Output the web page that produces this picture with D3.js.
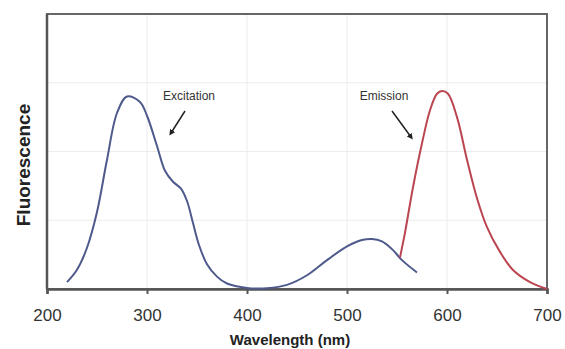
<!DOCTYPE html>
<html>
<head>
<meta charset="utf-8">
<script src="https://cdn.jsdelivr.net/npm/d3@7"></script>
<style>
body { margin: 0; background: #fff; }
svg { display: block; }
</style>
</head>
<body>
<div id="chart"></div>
<script>
// wavelength (nm) / relative fluorescence
var excitationNm = [220, 230, 240, 250, 260, 270, 280, 293, 300, 310, 318, 326, 334, 340, 346, 352, 360, 370, 380, 400, 420, 440, 460, 480, 500, 515, 525, 535, 545, 555, 570];
var excitationVal = [2.5, 7, 15, 28, 47, 64, 70, 68, 63, 52, 43, 39, 36.5, 32, 24, 16, 9, 4.5, 2, 0.4, 0.3, 1.5, 5, 10.5, 15.5, 17.8, 18.2, 17.3, 14.5, 10.5, 6];

var emissionNm = [553, 558, 566, 575, 583, 590, 595, 601, 610, 620, 630, 640, 653, 666, 683, 700];
var emissionVal = [11.5, 20.5, 37, 53, 65, 71, 72, 71, 62.5, 47, 33, 22.5, 13.5, 6.9, 2.5, 0];

var xTicks = [200, 300, 400, 500, 600, 700];
var yGrid = [25, 50, 75];

var width = 565, height = 349;
var plotLeft = 47, plotRight = 547, plotTop = 14, plotBottom = 289;

var svg = d3.select("#chart").append("svg")
	.attr("width", width)
	.attr("height", height)
	.style("font-family", "Arial, 'Liberation Sans', sans-serif");

var x = d3.scaleLinear().domain([200, 700]).range([plotLeft, plotRight]);
var y = d3.scaleLinear().domain([0, 100]).range([plotBottom, plotTop]);

//gridlines
svg.append("g").selectAll("line")
	.data(xTicks.slice(1, -1))
	.enter().append("line")
	.attr("x1", function(d){ return x(d); })
	.attr("x2", function(d){ return x(d); })
	.attr("y1", plotTop)
	.attr("y2", plotBottom)
	.attr("stroke", "#ececec")
	.attr("stroke-width", 1);

svg.append("g").selectAll("line")
	.data(yGrid)
	.enter().append("line")
	.attr("x1", plotLeft)
	.attr("x2", plotRight)
	.attr("y1", function(d){ return y(d); })
	.attr("y2", function(d){ return y(d); })
	.attr("stroke", "#ececec")
	.attr("stroke-width", 1);

//plot border
svg.append("rect")
	.attr("x", plotLeft)
	.attr("y", plotTop)
	.attr("width", plotRight - plotLeft)
	.attr("height", plotBottom - plotTop)
	.attr("fill", "none")
	.attr("stroke", "#666")
	.attr("stroke-width", 2);

//x axis
var xAxis = svg.append("g")
	.attr("transform", "translate(0," + plotBottom + ")")
	.call(d3.axisBottom(x).tickValues(xTicks).tickSize(5).tickPadding(15));
xAxis.select(".domain")
	.attr("stroke", "#555")
	.attr("stroke-width", 2.5);
xAxis.selectAll(".tick line")
	.attr("stroke", "#555")
	.attr("stroke-width", 2);
xAxis.selectAll(".tick text")
	.attr("fill", "#333")
	.style("font-size", "17px")
	.style("font-family", "Arial, 'Liberation Sans', sans-serif");

//left axis line
svg.append("line")
	.attr("x1", plotLeft)
	.attr("x2", plotLeft)
	.attr("y1", plotTop)
	.attr("y2", plotBottom)
	.attr("stroke", "#555")
	.attr("stroke-width", 2.5);

//curves
var line = d3.line()
	.x(function(d){ return x(d[0]); })
	.y(function(d){ return y(d[1]); })
	.curve(d3.curveCatmullRom.alpha(0.5));

svg.append("path")
	.datum(d3.zip(excitationNm, excitationVal))
	.attr("d", line)
	.attr("fill", "none")
	.attr("stroke", "#4e5a8c")
	.attr("stroke-width", 2);

svg.append("path")
	.datum(d3.zip(emissionNm, emissionVal))
	.attr("d", line)
	.attr("fill", "none")
	.attr("stroke", "#bb4550")
	.attr("stroke-width", 2);

//axis titles
svg.append("text")
	.attr("x", 290)
	.attr("y", 345)
	.attr("text-anchor", "middle")
	.attr("font-weight", "bold")
	.attr("font-size", 15)
	.attr("fill", "#222")
	.text("Wavelength (nm)");

svg.append("text")
	.attr("transform", "translate(30,165) rotate(-90)")
	.attr("text-anchor", "middle")
	.attr("font-weight", "bold")
	.attr("font-size", 19)
	.attr("fill", "#222")
	.text("Fluorescence");

//annotations
var defs = svg.append("defs");
defs.append("marker")
	.attr("id", "head")
	.attr("viewBox", "0 0 10 10")
	.attr("refX", 5)
	.attr("refY", 5)
	.attr("markerWidth", 4)
	.attr("markerHeight", 4)
	.attr("orient", "auto")
	.append("path")
	.attr("d", "M 0 0 L 10 5 L 0 10 z")
	.attr("fill", "#222");

var notes = [
	{text: "Excitation", tx: 189, ty: 100, x1: 185, y1: 111, x2: 171, y2: 133},
	{text: "Emission", tx: 384, ty: 100, x1: 392, y1: 111, x2: 411, y2: 137}
];

svg.append("g").selectAll("text")
	.data(notes)
	.enter().append("text")
	.attr("x", function(d){ return d.tx; })
	.attr("y", function(d){ return d.ty; })
	.attr("text-anchor", "middle")
	.attr("font-size", 12)
	.attr("fill", "#333")
	.text(function(d){ return d.text; });

svg.append("g").selectAll("line")
	.data(notes)
	.enter().append("line")
	.attr("x1", function(d){ return d.x1; })
	.attr("y1", function(d){ return d.y1; })
	.attr("x2", function(d){ return d.x2; })
	.attr("y2", function(d){ return d.y2; })
	.attr("stroke", "#222")
	.attr("stroke-width", 1.5)
	.attr("marker-end", "url(#head)");
</script>
</body>
</html>
